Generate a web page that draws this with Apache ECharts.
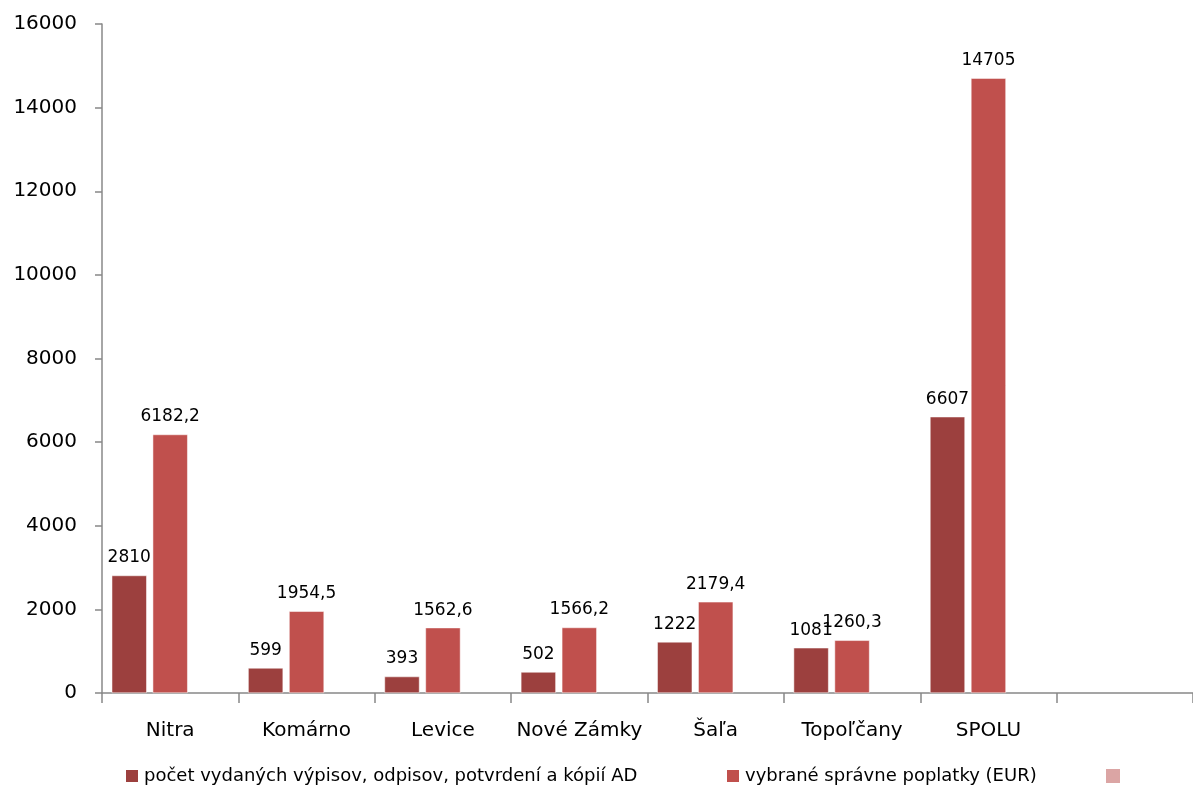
<!DOCTYPE html>
<html><head><meta charset="utf-8">
<script src="https://cdn.jsdelivr.net/npm/echarts@6/dist/echarts.min.js"></script>
<style>html,body{margin:0;padding:0;background:#fff}#c{width:1193px;height:785px}</style>
</head><body><div id="c"></div>
<script>
const categories = ['Nitra','Komárno','Levice','Nové Zámky','Šaľa','Topoľčany','SPOLU',''];
const seriesNames = ['počet vydaných výpisov, odpisov, potvrdení a kópií AD','vybrané správne poplatky (EUR)',' '];
const countValues = [2810, 599, 393, 502, 1222, 1081, 6607, null];
const feeValues = [6182.2, 1954.5, 1562.6, 1566.2, 2179.4, 1260.3, 14705, null];
const emptyValues = [null, null, null, null, null, null, null, null];
const yTicks = {min:0, max:16000, interval:2000};

const FONT = 'DejaVu Sans';
const colors = ['#9C403E','#C0504D','#DBA5A4'];
const fmt = p => String(p.value).replace('.', ',');
const label = {show:true, position:'top', distance:9, color:'#000', fontSize:17, fontFamily:FONT, formatter:fmt};
const legendText = {fontSize:18, fontFamily:FONT, color:'#000'};

const chart = echarts.init(document.getElementById('c'));
chart.setOption({
  animation:false,
  color: colors,
  grid:{left:102, right:-10, top:24, bottom:92, containLabel:false},
  legend:[
    {data:[seriesNames[0]], left:119, top:762, itemWidth:14, itemHeight:14, icon:'rect', textStyle:legendText},
    {data:[seriesNames[1]], left:720, top:762, itemWidth:14, itemHeight:14, icon:'rect', textStyle:legendText},
    {data:[seriesNames[2]], left:1101, top:762, itemWidth:14, itemHeight:14, icon:'rect', textStyle:legendText}
  ],
  xAxis:{type:'category', data:categories,
    axisLine:{lineStyle:{color:'#888', width:1.5}},
    axisTick:{show:true, interval:0, length:10, lineStyle:{color:'#888', width:1.5}},
    axisLabel:{interval:0, color:'#000', fontSize:20, fontFamily:FONT, margin:28}},
  yAxis:{type:'value', min:yTicks.min, max:yTicks.max, interval:yTicks.interval,
    axisLine:{show:true, lineStyle:{color:'#888', width:1.5}},
    axisTick:{show:true, length:7, lineStyle:{color:'#888', width:1.5}},
    splitLine:{show:false},
    axisLabel:{color:'#000', fontSize:20, fontFamily:FONT, margin:25, formatter: v => String(v)}},
  series:[
    {name:seriesNames[0], type:'bar', data:countValues, barWidth:35, barGap:'17%', label:label,
      itemStyle:{color:colors[0], borderColor:'#fff', borderWidth:0.5}},
    {name:seriesNames[1], type:'bar', data:feeValues, barWidth:35, barGap:'17%', label:label,
      itemStyle:{color:colors[1], borderColor:'#fff', borderWidth:0.5}},
    {name:seriesNames[2], type:'bar', data:emptyValues, barWidth:35, barGap:'17%',
      itemStyle:{color:colors[2]}}
  ]
});
</script></body></html>
